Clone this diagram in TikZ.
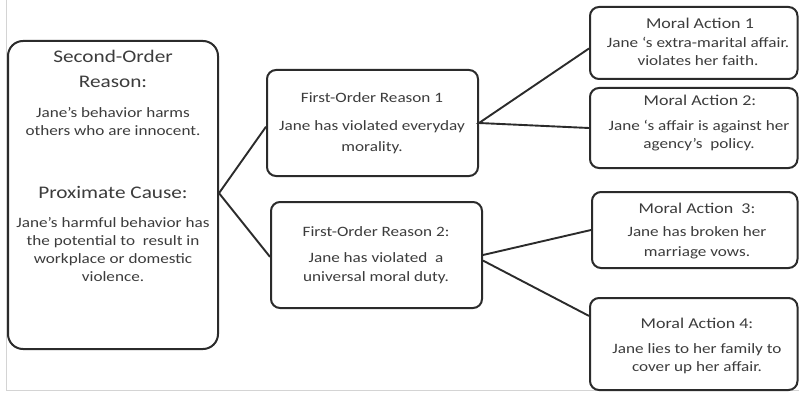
\documentclass[tikz,border=0pt]{standalone}
\usepackage{fontspec}
\setmainfont[FakeStretch=1.2]{Carlito}
\definecolor{boxline}{HTML}{2B2B2B}
\definecolor{txtcol}{HTML}{3C3C3C}
\definecolor{framecol}{HTML}{D4D4D4}
\begin{document}
\begin{tikzpicture}[x=1pt,y=-1pt,
  box/.style={draw=boxline, line width=2pt, rounded corners=9pt, inner sep=0pt, fill=white},
  txt/.style={text=txtcol, align=center, inner sep=0pt},
  head/.style={txt, font=\fontsize{15}{18}\selectfont},
  body/.style={txt, font=\fontsize{14.3}{18}\selectfont},
  big/.style={txt, font=\fontsize{17.7}{25}\selectfont},
  link/.style={draw=boxline, line width=1.9pt}]
\useasboundingbox (0,0) rectangle (799,393);
% light page frame
\coordinate (ftop) at (6,0);
\coordinate (fcorner) at (6,390);
\coordinate (fright) at (799,390);
\draw[framecol, line width=1pt] (ftop) -- (fcorner) -- (fright);

% boxes
\node[box, rounded corners=15pt, minimum width=210pt, minimum height=308pt] (sor) at (113,195) {};
\node[box, minimum width=211pt, minimum height=106pt] (fo1) at (372.5,123) {};
\node[box, minimum width=211pt, minimum height=106pt] (fo2) at (376.5,255) {};
\node[box, minimum width=207.5pt, minimum height=72pt] (ma1) at (693.75,43) {};
\node[box, minimum width=207.5pt, minimum height=80pt] (ma2) at (693.75,128) {};
\node[box, minimum width=205.5pt, minimum height=76pt] (ma3) at (694.75,230) {};
\node[box, minimum width=207.5pt, minimum height=92pt] (ma4) at (693.75,344) {};

% texts of the second-order box
\node[big] (sorhead) at (113,69) {Second-Order\\Reason:};
\node[body] (sorbody) at (113,121.5) {Jane’s behavior harms\\others who are innocent.};
\node[big] (pchead) at (113,192) {Proximate Cause:};
\node[body] (pcbody) at (113,249.5) {Jane’s harmful behavior has\\the potential to \ result in\\workplace or domestic\\violence.};

% texts of the first-order boxes
\node[body] (fo1head) at (372,98) {First-Order Reason 1};
\node[body, font=\fontsize{14.3}{21}\selectfont] (fo1body) at (372,137.5) {Jane has violated everyday\\morality.};
\node[body] (fo2head) at (376,232) {First-Order Reason 2:};
\node[body, font=\fontsize{14.3}{19}\selectfont] (fo2body) at (376,268.5) {Jane has violated \ a\\universal moral duty.};

% texts of the moral-action boxes
\node[head] (ma1head) at (700,23) {Moral Action 1};
\node[body] (ma1body) at (698,51.5) {Jane ‘s extra-marital affair.\\violates her faith.};
\node[head] (ma2head) at (700,100) {Moral Action 2:};
\node[body] (ma2body) at (699,136) {Jane ‘s affair is against her\\agency’s \ policy.};
\node[head] (ma3head) at (697,208) {Moral Action \ 3:};
\node[body, font=\fontsize{14.3}{20}\selectfont] (ma3body) at (697,243) {Jane has broken her\\marriage vows.};
\node[head] (ma4head) at (697,323) {Moral Action 4:};
\node[body] (ma4body) at (697,359) {Jane lies to her family to\\cover up her affair.};

% connectors
\draw[link] (fo1.182) -- (sor.1) -- (fo2.181);
\draw[link] (ma1.183) -- (fo1.east) -- (ma2.west);
\draw[link] (ma3.west) -- (fo2.east);
\draw[link] (fo2.-3) -- (ma4.165);
\end{tikzpicture}
\end{document}
